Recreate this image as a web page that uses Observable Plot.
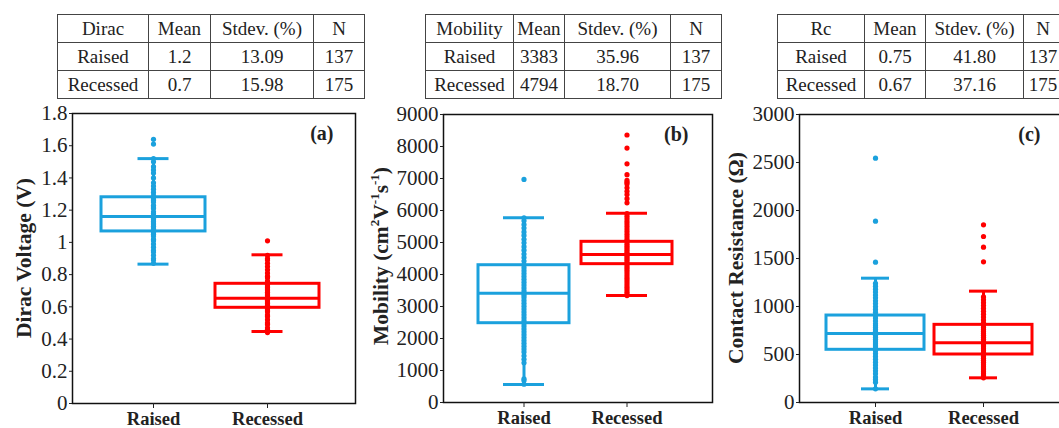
<!DOCTYPE html>
<html><head><meta charset="utf-8">
<script src="https://cdn.jsdelivr.net/npm/d3@7"></script>
<script src="https://cdn.jsdelivr.net/npm/@observablehq/plot@0.6"></script>
<style>
html,body{margin:0;padding:0;background:#fff;}
#root{position:relative;width:1059px;height:428px;overflow:hidden;font-family:"Liberation Serif",serif;color:#222;background:#fff;}
table.stat{position:absolute;top:14px;border-collapse:collapse;font-size:19px;table-layout:fixed;}
table.stat td{border:1px solid #444;text-align:center;height:27px;padding:0;line-height:27px;white-space:nowrap;overflow:visible;}
.ylab{position:absolute;font-weight:bold;font-size:21.5px;white-space:nowrap;transform:translate(-50%,-50%) rotate(-90deg);}
.ylab sup{font-size:13px;line-height:0;}
.plot{position:absolute;top:100px;}
</style></head><body><div id="root"></div>
<script>
// ---------- data ----------
const groups = ["Raised", "Recessed"];
const groupColors = ["#1ba1dd", "#ff0000"];
const counts = [137, 175];
const tableHeaders = ["Mean", "Stdev. (%)", "N"];

const diracMean = ["1.2", "0.7"];
const diracStdev = ["13.09", "15.98"];
const mobilityMean = ["3383", "4794"];
const mobilityStdev = ["35.96", "18.70"];
const rcMean = ["0.75", "0.67"];
const rcStdev = ["41.80", "37.16"];

// box statistics [Raised, Recessed]
const diracLo = [0.865, 0.447], diracQ1 = [1.068, 0.594], diracMed = [1.16, 0.654], diracQ3 = [1.28, 0.743], diracHi = [1.52, 0.923];
const mobilityLo = [562, 3344], mobilityQ1 = [2478, 4323], mobilityMed = [3417, 4625], mobilityQ3 = [4290, 5021], mobilityHi = [5771, 5917];
const rcLo = [142, 257], rcQ1 = [549, 500], rcMed = [719, 622], rcQ3 = [906, 809], rcHi = [1295, 1160];

// visible individual points
const diracRaised = [1.64, 1.61, 1.52, 1.50, 1.47, 1.45, 1.43, 1.40, 1.37, 1.35, 1.33, 1.31, 1.29, 1.27, 1.26, 1.25, 1.23, 1.22, 1.21, 1.19, 1.18, 1.17, 1.16, 1.15, 1.14, 1.13, 1.12, 1.11, 1.10, 1.09, 1.08, 1.07, 1.06, 1.05, 1.04, 1.02, 1.01, 0.99, 0.97, 0.95, 0.94, 0.92, 0.90, 0.89, 0.87];
const diracRecessed = [1.01, 0.92, 0.90, 0.89, 0.87, 0.85, 0.83, 0.81, 0.79, 0.78, 0.76, 0.75, 0.74, 0.73, 0.72, 0.71, 0.70, 0.69, 0.68, 0.67, 0.66, 0.65, 0.64, 0.63, 0.62, 0.61, 0.60, 0.59, 0.58, 0.57, 0.55, 0.54, 0.52, 0.50, 0.49, 0.47, 0.46, 0.45, 0.44];
const mobilityRaised = [6970, 5770, 5680, 5560, 5450, 5330, 5220, 5100, 4990, 4870, 4760, 4640, 4530, 4420, 4300, 4210, 4120, 4030, 3940, 3850, 3760, 3670, 3580, 3490, 3420, 3350, 3280, 3190, 3100, 3010, 2920, 2830, 2740, 2650, 2560, 2480, 2390, 2300, 2210, 2120, 2030, 1940, 1850, 1760, 1670, 1580, 1460, 1350, 1240, 740, 690, 570];
const mobilityRecessed = [8360, 7950, 7460, 7120, 6940, 6880, 6830, 6710, 6600, 6500, 6370, 6240, 5900, 5820, 5740, 5660, 5580, 5500, 5420, 5340, 5260, 5180, 5100, 5030, 4960, 4900, 4840, 4780, 4720, 4660, 4600, 4540, 4480, 4420, 4360, 4300, 4230, 4160, 4090, 4020, 3950, 3880, 3810, 3740, 3670, 3600, 3530, 3460, 3400, 3340];
const rcRaised = [2545, 1889, 1462, 1240, 1210, 1180, 1150, 1120, 1090, 1060, 1030, 1000, 970, 940, 910, 880, 850, 820, 800, 780, 760, 740, 720, 700, 680, 660, 640, 620, 600, 580, 560, 540, 510, 480, 450, 420, 390, 360, 330, 300, 265, 240, 212, 142];
const rcRecessed = [1851, 1729, 1618, 1465, 1100, 1070, 1040, 1010, 980, 950, 920, 890, 860, 830, 800, 780, 760, 740, 720, 700, 680, 660, 640, 620, 600, 580, 560, 540, 520, 500, 480, 460, 440, 420, 400, 380, 360, 340, 320, 300, 280, 257];

const diracTicks = [0, 0.2, 0.4, 0.6, 0.8, 1, 1.2, 1.4, 1.6, 1.8];
const mobilityTicks = [0, 1000, 2000, 3000, 4000, 5000, 6000, 7000, 8000, 9000];
const rcTicks = [0, 500, 1000, 1500, 2000, 2500, 3000];

// ---------- helpers ----------
const root = document.getElementById("root");

function makeTable(title, means, stdevs, left, colWidths) {
  const t = document.createElement("table");
  t.className = "stat";
  t.style.left = left + "px";
  t.style.width = d3.sum(colWidths) + "px";
  const cg = document.createElement("colgroup");
  colWidths.forEach(w => { const c = document.createElement("col"); c.style.width = w + "px"; cg.appendChild(c); });
  t.appendChild(cg);
  const rows = [[title, ...tableHeaders]];
  groups.forEach((g, i) => rows.push([g, means[i], stdevs[i], String(counts[i])]));
  rows.forEach(r => {
    const tr = document.createElement("tr");
    r.forEach(v => { const td = document.createElement("td"); td.textContent = v; tr.appendChild(td); });
    t.appendChild(tr);
  });
  root.appendChild(t);
}

function makeLabel(html, cx, cy) {
  const d = document.createElement("div");
  d.className = "ylab";
  d.innerHTML = html;
  d.style.left = cx + "px";
  d.style.top = cy + "px";
  root.appendChild(d);
}

function statsTable(lo, q1, med, q3, hi) {
  return groups.map((g, i) => ({group: g, lo: lo[i], q1: q1[i], med: med[i], q3: q3[i], hi: hi[i], shade: groupColors[i]}));
}
function pointsTable(a, b) {
  return [...a.map(v => ({group: groups[0], value: v, shade: groupColors[0]})),
          ...b.map(v => ({group: groups[1], value: v, shade: groupColors[1]}))];
}

function panel(cfg) {
  const sw = 3;
  const p = Plot.plot({
    width: cfg.width, height: 328,
    marginLeft: cfg.mLeft, marginRight: cfg.mRight, marginTop: cfg.mTop, marginBottom: cfg.mBottom,
    x: {type: "band", domain: groups, range: cfg.range, paddingInner: cfg.pi, paddingOuter: 0, align: 0.5},
    y: {domain: cfg.yDomain},
    color: {type: "identity"},
    style: {fontFamily: "Liberation Serif", color: "#222", background: "none", overflow: "visible"},
    marks: [
      Plot.barY(cfg.stats, {x: "group", y1: "q1", y2: "q3", fill: "none", stroke: "shade", strokeWidth: sw}),
      Plot.ruleX(cfg.stats, {x: "group", y1: "q3", y2: "hi", stroke: "shade", strokeWidth: sw}),
      Plot.ruleX(cfg.stats, {x: "group", y1: "lo", y2: "q1", stroke: "shade", strokeWidth: sw}),
      Plot.tickY(cfg.stats, {x: "group", y: "hi", stroke: "shade", strokeWidth: sw, inset: cfg.capInset}),
      Plot.tickY(cfg.stats, {x: "group", y: "lo", stroke: "shade", strokeWidth: sw, inset: cfg.capInset}),
      Plot.tickY(cfg.stats, {x: "group", y: "med", stroke: "shade", strokeWidth: sw}),
      Plot.dot(cfg.points, {x: "group", y: "value", r: 2.6, fill: "shade", stroke: "none"}),
      Plot.frame({stroke: "#111", strokeWidth: 1.5}),
      Plot.axisY({ticks: cfg.yTicks, tickFormat: d => String(d), tickSize: 3, tickPadding: 2, fontSize: 21, label: null}),
      Plot.axisX({tickSize: 5, tickPadding: 3, fontSize: 18.5, fontWeight: "bold", label: null}),
      Plot.text([cfg.tag], {frameAnchor: "top-right", text: d => d, textAnchor: "end", lineAnchor: "top", dx: cfg.tagDx, dy: 12, fontWeight: "bold", fontSize: 20})
    ]
  });
  p.classList.add("plot");
  p.style.left = cfg.left + "px";
  root.appendChild(p);
}

// ---------- tables ----------
makeTable("Dirac", diracMean, diracStdev, 57, [91, 62, 103, 51]);
makeTable("Mobility", mobilityMean, mobilityStdev, 425, [88, 51, 106, 51]);
makeTable("Rc", rcMean, rcStdev, 777, [87, 61, 98, 39]);

// ---------- plots ----------
panel({left: 0, width: 360, mLeft: 72, mRight: 5, mTop: 13, mBottom: 25,
  range: [100.7, 319], pi: 0.09, capInset: 36.5, yDomain: [0, 1.8], yTicks: diracTicks,
  stats: statsTable(diracLo, diracQ1, diracMed, diracQ3, diracHi), points: pointsTable(diracRaised, diracRecessed),
  tag: "(a)", tagDx: -22});
panel({left: 362, width: 360, mLeft: 81, mRight: 10, mTop: 14, mBottom: 26,
  range: [115, 311], pi: 0.115, capInset: 25, yDomain: [0, 9000], yTicks: mobilityTicks,
  stats: statsTable(mobilityLo, mobilityQ1, mobilityMed, mobilityQ3, mobilityHi), points: pointsTable(mobilityRaised, mobilityRecessed),
  tag: "(b)", tagDx: -24});
panel({left: 722, width: 370, mLeft: 77, mRight: 14, mTop: 14, mBottom: 26,
  range: [104, 310], pi: 0.0926, capInset: 35, yDomain: [0, 3000], yTicks: rcTicks,
  stats: statsTable(rcLo, rcQ1, rcMed, rcQ3, rcHi), points: pointsTable(rcRaised, rcRecessed),
  tag: "(c)", tagDx: -38});

// ---------- axis titles ----------
makeLabel("Dirac Voltage (V)", 24, 258);
makeLabel("Mobility (cm<sup>2</sup>V<sup>-1</sup>s<sup>-1</sup>)", 381, 256);
makeLabel("Contact Resistance (Ω)", 736, 258);
</script>
</body></html>
